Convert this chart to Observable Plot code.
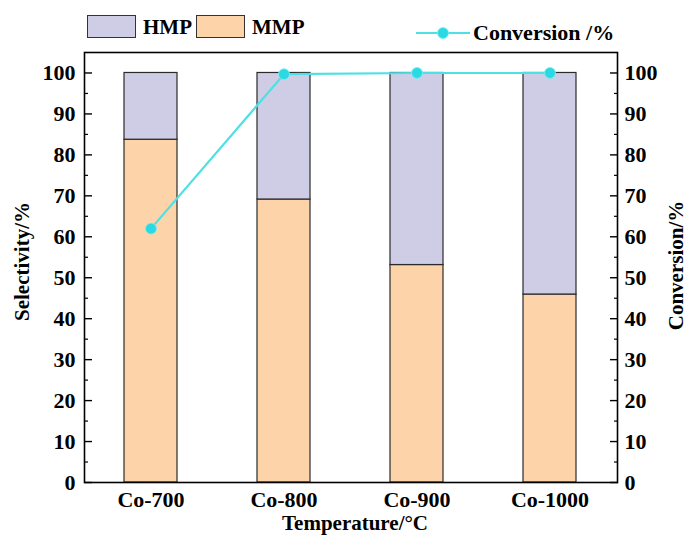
<!DOCTYPE html>
<html>
<head>
<meta charset="utf-8">
<script src="https://cdn.jsdelivr.net/npm/d3@7"></script>
<script src="https://cdn.jsdelivr.net/npm/@observablehq/plot@0.6"></script>
<style>
  html, body { margin: 0; padding: 0; background: #fff; }
  #wrap { position: relative; width: 689px; height: 538px; font-family: "Liberation Serif", "Times New Roman", serif; font-weight: bold; color: #000; }
  #legend { position: absolute; left: 0; top: 0; width: 689px; height: 52px; }
  .sw { position: absolute; top: 15px; width: 49px; height: 23px; border: 1.2px solid #333; box-sizing: border-box; }
  .lt { position: absolute; font-size: 21px; line-height: 24px; white-space: nowrap; }
  #chart { position: absolute; left: 0; top: 0; }
</style>
</head>
<body>
<div id="wrap">
  <div id="chart"></div>
  <div id="legend"></div>
</div>
<script>
const categories = ["Co-700", "Co-800", "Co-900", "Co-1000"];
const mmp = [83.7, 69.1, 53.1, 45.9];
const hmp = [16.3, 30.9, 46.9, 54.1];
const conversion = [62.0, 99.7, 100.0, 100.0];
const majorTicks = [0, 10, 20, 30, 40, 50, 60, 70, 80, 90, 100];
const minorTicks = [5, 15, 25, 35, 45, 55, 65, 75, 85, 95];
const seriesNames = ["MMP", "HMP"];
const seriesColors = ["#fdd4a9", "#cfcde6"];
const lineColor = "#4fe0e3";
const dotColor = "#2cd9e3";

const bars = [];
categories.forEach((c, i) => {
  bars.push({cat: c, series: "MMP", value: mmp[i]});
  bars.push({cat: c, series: "HMP", value: hmp[i]});
});
const conv = categories.map((c, i) => ({cat: c, value: conversion[i]}));

const font = {fontSize: 22, fontWeight: "bold", fontFamily: "Liberation Serif"};
const titleFont = {fontSize: 21, fontWeight: "bold", fontFamily: "Liberation Serif"};

const chart = Plot.plot({
  width: 689,
  height: 538,
  marginLeft: 84,
  marginRight: 72,
  marginTop: 52,
  marginBottom: 56,
  style: {fontFamily: "Liberation Serif", fontWeight: "bold", fontSize: "22px", color: "#000", background: "transparent"},
  x: {type: "band", domain: categories, paddingInner: 0.6, paddingOuter: 0.3, axis: null},
  y: {domain: [0, 105], axis: null},
  color: {domain: seriesNames, range: seriesColors},
  marks: [
    Plot.barY(bars, {x: "cat", y: "value", fill: "series", stroke: "#2a2a2a", strokeWidth: 1.2, order: seriesNames}),
    Plot.line(conv, {x: "cat", y: "value", stroke: lineColor, strokeWidth: 2.2}),
    Plot.dot(conv, {x: "cat", y: "value", r: 5.5, fill: dotColor, stroke: "#7ef0f3", strokeWidth: 0.8}),
    Plot.frame({stroke: "#000", strokeWidth: 1.6}),
    // inward ticks
    Plot.axisY({anchor: "left", ticks: majorTicks, tickSize: 8, dx: 8, tickFormat: () => "", label: null, strokeWidth: 1.4}),
    Plot.axisY({anchor: "left", ticks: minorTicks, tickSize: 4, dx: 4, tickFormat: () => "", label: null, strokeWidth: 1.2}),
    Plot.axisY({anchor: "right", ticks: majorTicks, tickSize: 8, dx: -8, tickFormat: () => "", label: null, strokeWidth: 1.4}),
    Plot.axisY({anchor: "right", ticks: minorTicks, tickSize: 4, dx: -4, tickFormat: () => "", label: null, strokeWidth: 1.2}),
    // tick labels
    Plot.axisY({anchor: "left", ticks: majorTicks, tickSize: 0, tickPadding: 9, label: null, ...font}),
    Plot.axisY({anchor: "right", ticks: majorTicks, tickSize: 0, tickPadding: 7, label: null, ...font}),
    Plot.axisX({anchor: "bottom", tickSize: 0, tickPadding: 9, label: null, ...font}),
    // axis titles
    Plot.text(["Selectivity/%"], {frameAnchor: "left", textAnchor: "middle", lineAnchor: "middle", dx: -62, dy: -6, rotate: -90, ...titleFont}),
    Plot.text(["Conversion/%"], {frameAnchor: "right", textAnchor: "middle", lineAnchor: "middle", dx: 59, dy: -2, rotate: -90, ...titleFont}),
    Plot.text(["Temperature/°C"], {frameAnchor: "bottom", textAnchor: "middle", lineAnchor: "middle", dx: 4, dy: 41, ...titleFont})
  ]
});
document.getElementById("chart").appendChild(chart);

// legend (HTML, above the plot area)
const legend = document.getElementById("legend");
const items = [
  {name: "HMP", color: seriesColors[1], sw: 87, tx: 143},
  {name: "MMP", color: seriesColors[0], sw: 196, tx: 252}
];
items.forEach(it => {
  const s = document.createElement("div");
  s.className = "sw"; s.style.left = it.sw + "px"; s.style.background = it.color;
  legend.appendChild(s);
  const t = document.createElement("div");
  t.className = "lt"; t.style.left = it.tx + "px"; t.style.top = "15px"; t.textContent = it.name;
  legend.appendChild(t);
});
const ls = d3.select(legend).append("svg").attr("width", 60).attr("height", 20)
  .style("position", "absolute").style("left", "414px").style("top", "23px");
ls.append("line").attr("x1", 2).attr("x2", 56).attr("y1", 10).attr("y2", 10).attr("stroke", lineColor).attr("stroke-width", 2.2);
ls.append("circle").attr("cx", 29).attr("cy", 10).attr("r", 5.5).attr("fill", dotColor).attr("stroke", "#7ef0f3").attr("stroke-width", 0.8);
const ct = document.createElement("div");
ct.className = "lt"; ct.style.left = "473px"; ct.style.top = "21px"; ct.style.fontSize = "22px";
ct.textContent = "Conversion /%";
legend.appendChild(ct);
</script>
</body>
</html>
